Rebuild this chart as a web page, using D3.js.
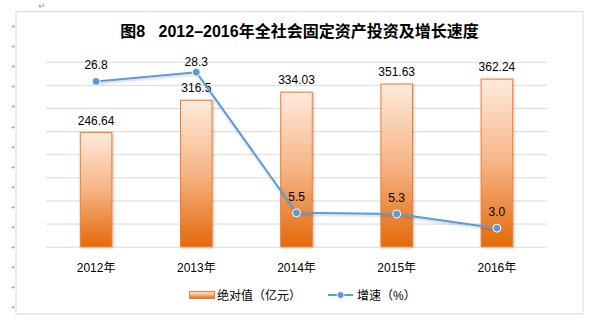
<!DOCTYPE html>
<html>
<head>
<meta charset="utf-8">
<script src="https://cdn.jsdelivr.net/npm/d3@7/dist/d3.min.js"></script>
<style>
  html, body { margin: 0; padding: 0; background: #fff; }
  svg { display: block; }
  text { font-family: "Liberation Sans", "Noto Sans CJK SC", sans-serif; }
</style>
</head>
<body>
<svg id="chart" width="600" height="323"></svg>
<script>
// ---- data ----
const years = ["2012年", "2013年", "2014年", "2015年", "2016年"];
const absValues = [246.64, 316.5, 334.03, 351.63, 362.24];      // 绝对值（亿元）
const absLabels = ["246.64", "316.5", "334.03", "351.63", "362.24"];
const growthValues = [26.8, 28.3, 5.5, 5.3, 3.0];                // 增速（%）
const growthLabels = ["26.8", "28.3", "5.5", "5.3", "3.0"];
const barTicks = [0, 50, 100, 150, 200, 250, 300, 350, 400];
const lineDomain = [0, 30];
const title = "图8\u00a0\u00a0 2012–2016年全社会固定资产投资及增长速度";
const legendBar = "绝对值（亿元）";
const legendLine = "增速（%）";

// ---- layout ----
const svg = d3.select("#chart");
const frame = { x0: 16, y0: 11.5, x1: 583, y1: 314 };
const plot = { left: 46, right: 547, top: 61.7, bottom: 246.7 };

const defs = svg.append("defs");
const grad = defs.append("linearGradient").attr("id", "barGrad")
  .attr("x1", 0).attr("y1", 0).attr("x2", 0).attr("y2", 1);
grad.append("stop").attr("offset", "0%").attr("stop-color", "#FEEBDC");
grad.append("stop").attr("offset", "50%").attr("stop-color", "#F6B485");
grad.append("stop").attr("offset", "100%").attr("stop-color", "#E3690A");

const shadow = defs.append("filter").attr("id", "shadow")
  .attr("x", "-30%").attr("y", "-10%").attr("width", "160%").attr("height", "120%");
shadow.append("feDropShadow").attr("dx", 1).attr("dy", 0.5)
  .attr("stdDeviation", 1.2).attr("flood-color", "#000").attr("flood-opacity", 0.25);

const lshadow = defs.append("filter").attr("id", "lshadow")
  .attr("x", "-10%").attr("y", "-10%").attr("width", "120%").attr("height", "130%");
lshadow.append("feDropShadow").attr("dx", 0.5).attr("dy", 1.5)
  .attr("stdDeviation", 1).attr("flood-color", "#000").attr("flood-opacity", 0.2);

// document artifacts (Word paragraph marks)
svg.append("text").attr("x", 38).attr("y", 9).attr("font-size", 9)
  .attr("fill", "#999").text("↵");
svg.append("g").selectAll("text").data(d3.range(15)).join("text")
  .attr("x", 13).attr("y", i => 26 + i * 20.1 + 3)
  .attr("text-anchor", "middle").attr("font-size", 8).attr("fill", "#8a8a8a")
  .text("+");

// frame
svg.append("rect")
  .attr("x", frame.x0).attr("y", frame.y0)
  .attr("width", frame.x1 - frame.x0).attr("height", frame.y1 - frame.y0)
  .attr("fill", "none").attr("stroke", "#D9D9D9").attr("stroke-width", 1);

// title
svg.append("text")
  .attr("x", (frame.x0 + frame.x1) / 2).attr("y", 37)
  .attr("text-anchor", "middle")
  .attr("font-family", "'Liberation Serif', 'Noto Sans CJK SC', serif")
  .attr("font-size", 16).attr("font-weight", "bold").attr("fill", "#000")
  .text(title);

// scales
const x = d3.scaleBand().domain(years).range([plot.left, plot.right])
  .paddingInner(0.685).paddingOuter(0.3425);
const yBar = d3.scaleLinear().domain([barTicks[0], barTicks[barTicks.length - 1]])
  .range([plot.bottom, plot.top]);
const yLine = d3.scaleLinear().domain(lineDomain).range([plot.bottom, plot.top]);

// gridlines
const grid = svg.append("g").attr("transform", `translate(${plot.left},0)`)
  .call(d3.axisLeft(yBar).tickValues(barTicks).tickSize(-(plot.right - plot.left)).tickFormat(""));
grid.select(".domain").remove();
grid.selectAll(".tick line").attr("stroke", "#D9D9D9").attr("stroke-width", 1);

// x axis
const xa = svg.append("g").attr("transform", `translate(0,${plot.bottom})`)
  .call(d3.axisBottom(x).tickSize(0).tickPadding(17));
xa.select(".domain").remove();
xa.selectAll(".tick text")
  .attr("font-family", "'Liberation Sans', 'Noto Sans CJK SC', sans-serif")
  .attr("font-size", 12).attr("fill", "#000");

// bars
svg.append("g").selectAll("rect").data(absValues).join("rect")
  .attr("x", (d, i) => x(years[i]))
  .attr("y", d => yBar(d))
  .attr("width", x.bandwidth())
  .attr("height", d => yBar(0) - yBar(d))
  .attr("fill", "url(#barGrad)")
  .attr("stroke", "#ED7D31").attr("stroke-width", 1)
  .attr("filter", "url(#shadow)");

// bar labels
svg.append("g").selectAll("text").data(absValues).join("text")
  .attr("x", (d, i) => x(years[i]) + x.bandwidth() / 2)
  .attr("y", d => yBar(d) - 8)
  .attr("text-anchor", "middle").attr("font-size", 12).attr("fill", "#000")
  .text((d, i) => absLabels[i]);

// line
const cx = i => x(years[i]) + x.bandwidth() / 2;
const line = d3.line().x((d, i) => cx(i)).y(d => yLine(d));
svg.append("path").datum(growthValues)
  .attr("d", line).attr("fill", "none")
  .attr("stroke", "#5B9BD5").attr("stroke-width", 2)
  .attr("filter", "url(#lshadow)");

svg.append("g").selectAll("circle").data(growthValues).join("circle")
  .attr("cx", (d, i) => cx(i)).attr("cy", d => yLine(d)).attr("r", 4)
  .attr("fill", "#5B9BD5").attr("stroke", "#fff").attr("stroke-width", 1);

// line labels
svg.append("g").selectAll("text").data(growthValues).join("text")
  .attr("x", (d, i) => cx(i))
  .attr("y", d => Math.max(yLine(d) - 12, 66))
  .attr("text-anchor", "middle").attr("font-size", 12).attr("fill", "#000")
  .text((d, i) => growthLabels[i]);

// legend
const lg = svg.append("g");
lg.append("rect").attr("x", 189.5).attr("y", 291.5).attr("width", 25).attr("height", 7)
  .attr("fill", "url(#barGrad)").attr("stroke", "#ED7D31").attr("stroke-width", 1);
lg.append("text").attr("x", 217).attr("y", 299.5)
  .attr("font-size", 12).attr("fill", "#000").text(legendBar);
lg.append("line").attr("x1", 328).attr("x2", 353).attr("y1", 295).attr("y2", 295)
  .attr("stroke", "#5B9BD5").attr("stroke-width", 2);
lg.append("circle").attr("cx", 340.5).attr("cy", 295).attr("r", 3.5)
  .attr("fill", "#5B9BD5").attr("stroke", "#fff").attr("stroke-width", 0.8);
lg.append("text").attr("x", 357).attr("y", 299.5)
  .attr("font-size", 12).attr("fill", "#000").text(legendLine);
</script>
</body>
</html>
